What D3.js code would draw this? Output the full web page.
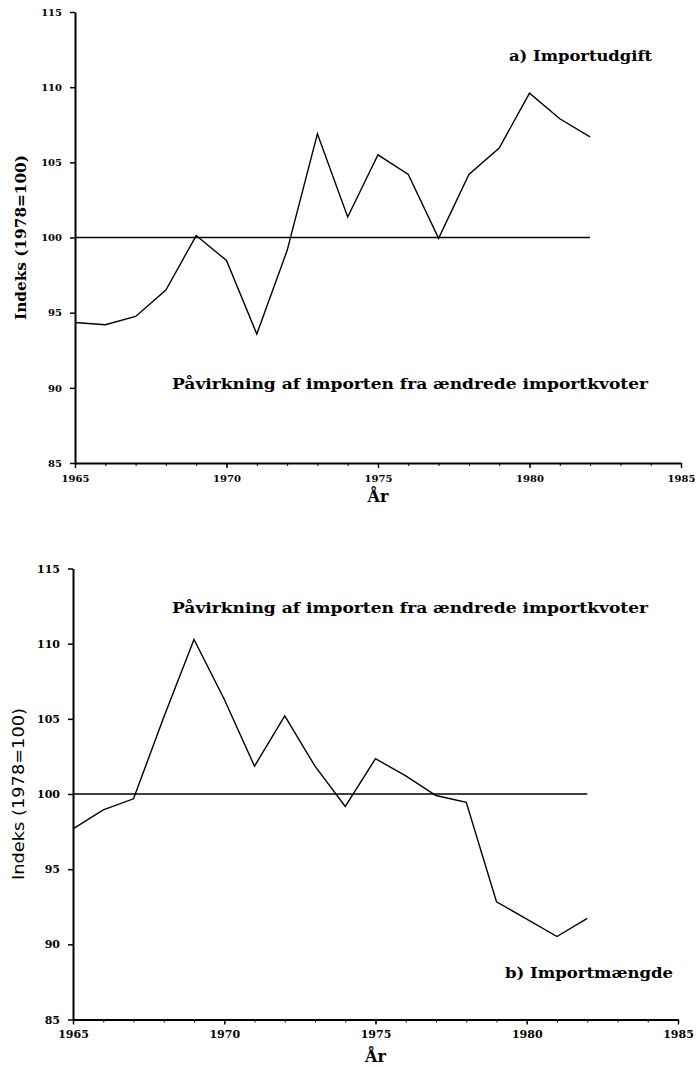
<!DOCTYPE html>
<html>
<head>
<meta charset="utf-8">
<script src="https://cdn.jsdelivr.net/npm/d3@7"></script>
<style>
  html, body { margin: 0; padding: 0; background: #fff; }
  svg { display: block; }
</style>
</head>
<body>
<div id="chart"></div>
<script>
// ---- data ----
const years = [1965,1966,1967,1968,1969,1970,1971,1972,1973,1974,1975,1976,1977,1978,1979,1980,1981,1982];
const importudgift = [94.35,94.2,94.75,96.5,100.13,98.47,93.58,99.13,106.9,101.36,105.5,104.2,99.95,104.2,105.95,109.6,107.9,106.7];
const importmaengde = [97.68,98.95,99.68,105.1,110.28,106.3,101.85,105.2,101.85,99.17,102.35,101.2,99.9,99.45,92.83,91.68,90.52,91.72];
const baseline = [100,100];
const baselineYears = [1965,1982];
const yTicks = [85,90,95,100,105,110,115];
const xTicks = [1965,1970,1975,1980,1985];
const xMinor = d3.range(1965,1986);
const yTitle = "Indeks (1978=100)";
const xTitle = "År";
const subtitle = "Påvirkning af importen fra ændrede importkvoter";
const labelA = "a) Importudgift";
const labelB = "b) Importmængde";

const svg = d3.select("#chart").append("svg").attr("width",700).attr("height",1067);

function panel(cfg) {
  const g = svg.append("g");
  const x = d3.scaleLinear().domain([1965,1985]).range([cfg.x0, cfg.x1]);
  const y = d3.scaleLinear().domain([85,115]).range([cfg.yb, cfg.yt]);

  // minor x ticks
  g.append("g").attr("transform",`translate(0,${cfg.yb})`)
    .call(d3.axisBottom(x).tickValues(xMinor).tickSize(3).tickFormat(""))
    .call(s => s.select(".domain").remove())
    .call(s => s.selectAll("line").attr("stroke","#000").attr("stroke-width",1));

  const xa = g.append("g").attr("transform",`translate(0,${cfg.yb})`)
    .call(d3.axisBottom(x).tickValues(xTicks).tickSize(5).tickSizeOuter(0).tickPadding(cfg.xpad).tickFormat(d3.format("d")));
  xa.select(".domain").attr("stroke","#000").attr("stroke-width",2);
  xa.selectAll("line").attr("stroke","#000").attr("stroke-width",1.5);
  xa.selectAll("text").attr("font-family","DejaVu Serif").attr("font-weight","bold")
    .attr("font-size",cfg.tfs).attr("fill","#000");

  const ya = g.append("g").attr("transform",`translate(${cfg.x0},0)`)
    .call(d3.axisLeft(y).tickValues(yTicks).tickSize(5).tickSizeOuter(0).tickPadding(8).tickFormat(d3.format("d")));
  ya.select(".domain").attr("stroke","#000").attr("stroke-width",2);
  ya.selectAll("line").attr("stroke","#000").attr("stroke-width",1.5);
  ya.selectAll("text").attr("font-family","DejaVu Serif").attr("font-weight","bold")
    .attr("font-size",cfg.tfs).attr("fill","#000");

  // 100 reference line
  g.append("path")
    .datum(baselineYears.map((yr,i)=>[yr, baseline[i]]))
    .attr("d", d3.line().x(d=>x(d[0])).y(d=>y(d[1])))
    .attr("fill","none").attr("stroke","#000").attr("stroke-width",1.6);

  // series
  g.append("path")
    .datum(years.map((yr,i)=>[yr, cfg.values[i]]))
    .attr("d", d3.line().x(d=>x(d[0])).y(d=>y(d[1])))
    .attr("fill","none").attr("stroke","#000").attr("stroke-width",1.4)
    .attr("stroke-linejoin","miter");

  // y title
  g.append("text")
    .attr("transform",`translate(${cfg.ytx},${(cfg.yt+cfg.yb)/2}) rotate(-90)`)
    .attr("text-anchor","middle").attr("dominant-baseline","central")
    .attr("font-family", cfg.ytFont).attr("font-weight", cfg.ytWeight)
    .attr("font-size",15).attr("textLength",cfg.ytLen).attr("lengthAdjust","spacingAndGlyphs")
    .text(yTitle);

  // x title
  g.append("text").attr("x",x(1975)).attr("y",cfg.xtY)
    .attr("text-anchor","middle").attr("font-family","DejaVu Serif").attr("font-weight","bold")
    .attr("font-size",16).text(xTitle);

  // subtitle
  g.append("text").attr("x",172).attr("y",cfg.subY)
    .attr("font-family","DejaVu Serif").attr("font-weight","bold")
    .attr("font-size",15).attr("textLength",476).attr("lengthAdjust","spacingAndGlyphs")
    .text(subtitle);

  // panel label
  g.append("text").attr("x",cfg.lblX).attr("y",cfg.lblY)
    .attr("font-family","DejaVu Serif").attr("font-weight","bold")
    .attr("font-size",15).attr("textLength",cfg.lblLen).attr("lengthAdjust","spacingAndGlyphs")
    .text(cfg.label);
}

panel({x0:75, x1:681, yt:12, yb:463, values:importudgift, xpad:7, tfs:10,
       ytx:21, ytLen:165, ytFont:"DejaVu Serif", ytWeight:"bold", xtY:502, subY:389,
       label:labelA, lblX:509, lblY:61, lblLen:143});
panel({x0:73, x1:678, yt:568.5, yb:1019.5, values:importmaengde, xpad:6, tfs:11,
       ytx:19, ytLen:172, ytFont:"DejaVu Sans", ytWeight:"normal", xtY:1062, subY:613,
       label:labelB, lblX:505, lblY:978, lblLen:168});
</script>
</body>
</html>
